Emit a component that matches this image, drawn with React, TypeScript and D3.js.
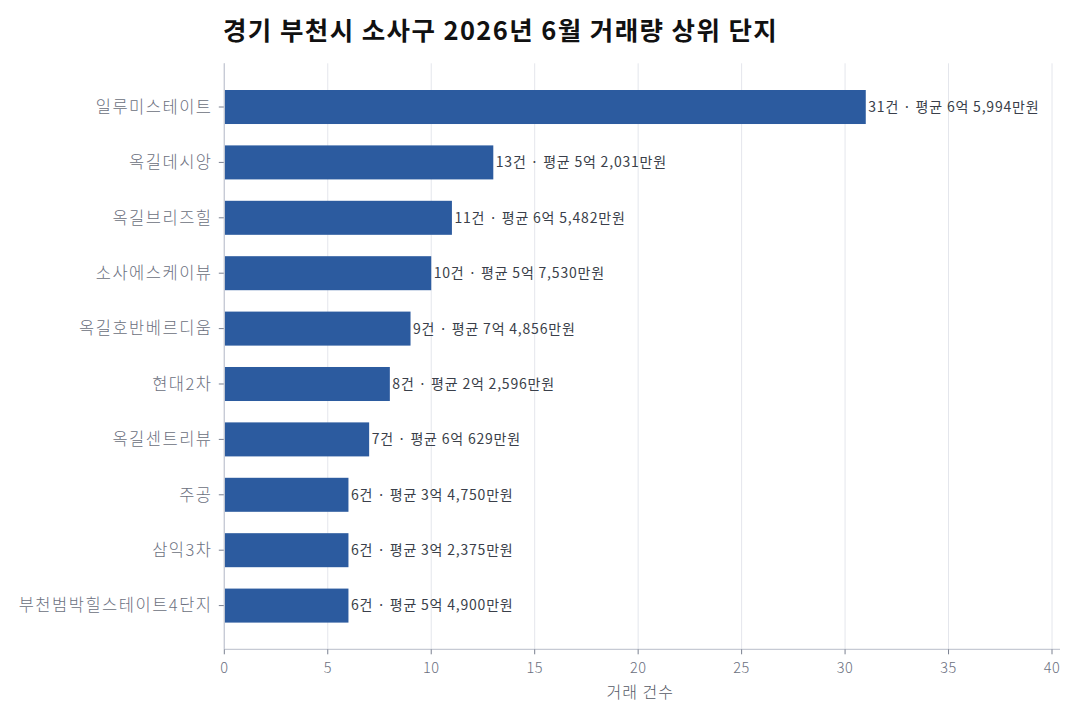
import React from "react";
import * as d3 from "d3";

const names = [
  "일루미스테이트",
  "옥길데시앙",
  "옥길브리즈힐",
  "소사에스케이뷰",
  "옥길호반베르디움",
  "현대2차",
  "옥길센트리뷰",
  "주공",
  "삼익3차",
  "부천범박힐스테이트4단지",
];
const counts = [31, 13, 11, 10, 9, 8, 7, 6, 6, 6];
const avgPrices = [
  "6억 5,994만원",
  "5억 2,031만원",
  "6억 5,482만원",
  "5억 7,530만원",
  "7억 4,856만원",
  "2억 2,596만원",
  "6억 629만원",
  "3억 4,750만원",
  "3억 2,375만원",
  "5억 4,900만원",
];
const xTicks = [0, 5, 10, 15, 20, 25, 30, 35, 40];
const title = "경기 부천시 소사구 2026년 6월 거래량 상위 단지";
const xTitle = "거래 건수";

const W = 1080;
const H = 720;
const FONT = "'Noto Sans CJK KR', 'Noto Sans', sans-serif";

export default function App() {
  const x = d3.scaleLinear().domain([0, 40]).range([224.3, 1052]);
  const y = d3
    .scaleBand<string>()
    .domain(names)
    .range([63.3, 649.3])
    .paddingInner(0.386)
    .paddingOuter(0.482);
  const top = 63.3;
  const bottom = 649.3;
  return (
    <svg
      width={W}
      height={H}
      style={{ position: "absolute", left: 0, top: 0, background: "#fff" }}
      fontFamily={FONT}
    >
      <text x={223} y={40} fontSize={25.5} fontWeight={700} letterSpacing={1.4} fill="#111">
        {title}
      </text>
      {xTicks.map((t) => (
        <line
          key={"g" + t}
          x1={x(t)}
          x2={x(t)}
          y1={top}
          y2={bottom}
          stroke="#e4e6ec"
          strokeWidth={1}
        />
      ))}
      {names.map((n, i) => {
        const cy = (y(n) as number) + y.bandwidth() / 2;
        return (
          <g key={n}>
            <rect
              x={x(0)}
              y={y(n)}
              width={x(counts[i]) - x(0)}
              height={y.bandwidth()}
              fill="#2c5b9f"
            />
            <text
              x={x(counts[i]) + 2.5}
              y={cy}
              dy="0.35em"
              fontSize={14}
              letterSpacing={0.8}
              fill="#3a3f4a"
            >
              {`${counts[i]}건 · 평균 ${avgPrices[i]}`}
            </text>
            <line x1={x(0) - 5.5} x2={x(0)} y1={cy} y2={cy} stroke="#7a8090" />
            <text
              x={212.5}
              y={cy}
              dy="0.35em"
              textAnchor="end"
              fontSize={16.5}
              letterSpacing={1.5}
              fontWeight={300}
              fill="#6b7080"
            >
              {n}
            </text>
          </g>
        );
      })}
      <line x1={x(0)} x2={x(0)} y1={top} y2={bottom} stroke="#c6cad4" strokeWidth={1.3} />
      <line x1={x(0)} x2={1060} y1={bottom} y2={bottom} stroke="#c6cad4" strokeWidth={1.3} />
      {xTicks.map((t) => (
        <g key={"t" + t}>
          <line x1={x(t)} x2={x(t)} y1={bottom} y2={bottom + 5} stroke="#7a8090" />
          <text
            x={x(t)}
            y={668}
            dy="0.35em"
            textAnchor="middle"
            fontSize={14.5}
            letterSpacing={0.5}
            fontWeight={300}
            fill="#6b7080"
          >
            {t}
          </text>
        </g>
      ))}
      <text
        x={(x(0) + x(40)) / 2 + 2}
        y={692}
        dy="0.35em"
        textAnchor="middle"
        fontSize={16}
        letterSpacing={1}
        fontWeight={300}
        fill="#555a66"
      >
        {xTitle}
      </text>
    </svg>
  );
}
